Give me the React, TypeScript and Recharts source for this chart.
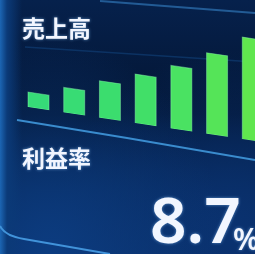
import { BarChart, Bar, XAxis, YAxis, Cell } from "recharts";

// sales bars, left to right
const periods = ["1", "2", "3", "4", "5", "6", "7"];
const sales = [15, 25, 37, 49, 63, 81, 102];
const salesTitle = "売上高";
const marginTitle = "利益率";
const marginValue = "8.7";
const marginUnit = "%";

const chartData = periods.map((p, i) => ({ name: p, value: sales[i] }));

const BAR_COLORS = ["#36db78", "#38dc74", "#3bdd6e", "#41df68", "#4ae262", "#55e458", "#60e64e"];

export default function App() {
  return (
    <div
      style={{
        position: "fixed",
        left: 0,
        top: 0,
        width: 255,
        height: 254,
        overflow: "hidden",
        background:
          "linear-gradient(to right, #1c66b4 0px, #0b3a78 7px, rgba(6,32,74,0) 22px), " +
          "radial-gradient(ellipse at 20% 100%, #0c3c80 0%, rgba(8,40,90,0) 60%), " +
          "radial-gradient(ellipse at 90% 90%, #0a3270 0%, rgba(8,40,90,0) 55%), " +
          "linear-gradient(to bottom, #06214c 0%, #031533 45%, #062554 75%, #0a2e66 100%)",
      }}
    >
      <svg width={255} height={254} style={{ position: "absolute", left: 0, top: 0 }}>
        <line x1={100} y1={1} x2={255} y2={13} stroke="#2a6aa8" strokeWidth={2} opacity={0.8} />
        <line x1={25} y1={47} x2={255} y2={62} stroke="#0f3c72" strokeWidth={1.5} opacity={0.7} />
        <polyline
          points="17,120 127,138 255,160"
          fill="none"
          stroke="#3a8cce"
          strokeWidth={2}
        />
        <path d="M0,226 Q5,236 24,239 L110,254" fill="none" stroke="#4193da" strokeWidth={2} />
      </svg>

      <div
        style={{
          position: "absolute",
          left: 21,
          top: -3.7,
          transform: "skewY(8.5deg)",
          transformOrigin: "0 0",
        }}
      >
        <BarChart
          width={250}
          height={110}
          data={chartData}
          margin={{ top: 0, right: 0, bottom: 0, left: 0 }}
          barSize={21}
        >
          <XAxis dataKey="name" hide />
          <YAxis hide domain={[0, 110]} />
          <Bar dataKey="value" isAnimationActive={false} stroke="#8dffb0" strokeOpacity={0.45} strokeWidth={1}>
            {chartData.map((_, i) => (
              <Cell key={i} fill={BAR_COLORS[i % BAR_COLORS.length]} />
            ))}
          </Bar>
        </BarChart>
      </div>

      <svg width={255} height={254} style={{ position: "absolute", left: 0, top: 0 }}>
        <defs>
          <filter id="glow" x="-20%" y="-20%" width="140%" height="140%">
            <feGaussianBlur stdDeviation="1.6" result="b" />
            <feFlood floodColor="#8cc8ff" floodOpacity="0.6" />
            <feComposite in2="b" operator="in" result="g" />
            <feMerge>
              <feMergeNode in="g" />
              <feMergeNode in="SourceGraphic" />
            </feMerge>
          </filter>
        </defs>
        <g fill="#f2f6ff" filter="url(#glow)">
          <text
            x={22}
            y={37}
            fontSize={23}
            fontWeight={700}
            fontFamily="'Noto Sans CJK JP', sans-serif"
          >
            {salesTitle}
          </text>
          <text
            x={22}
            y={167}
            fontSize={23}
            fontWeight={700}
            fontFamily="'Noto Sans CJK JP', sans-serif"
          >
            {marginTitle}
          </text>
          <text x={150} y={243} fontSize={64} fontWeight={600} fontFamily="'Noto Sans', sans-serif">
            {marginValue}
          </text>
          <text x={233} y={250} fontSize={30} fontWeight={600} fontFamily="'Noto Sans', sans-serif">
            {marginUnit}
          </text>
        </g>
      </svg>
    </div>
  );
}
